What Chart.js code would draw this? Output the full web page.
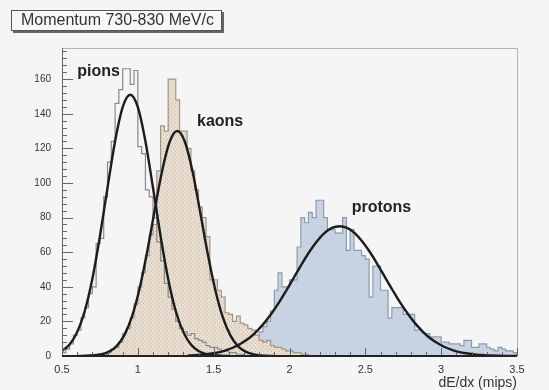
<!DOCTYPE html>
<html>
<head>
<meta charset="utf-8">
<script src="https://cdn.jsdelivr.net/npm/chart.js@4.4.1/dist/chart.umd.min.js"></script>
<style>
  html, body { margin: 0; padding: 0; background: #f5f5f5; }
  #wrap { width: 549px; height: 390px; }
</style>
</head>
<body>
<div id="wrap"><canvas id="dedx"></canvas></div>
<script>
// dE/dx spectra, momentum slice 730-830 MeV/c
const binWidth = 0.025;

const pionStart = 0.5;
const pionCounts = [
  2, 4, 7, 12, 15, 22, 28, 36, 40, 65, 68, 92, 112, 124, 146, 154,
  166, 166, 157, 165, 121, 117, 96, 92, 80, 66, 55, 42, 34, 27, 20, 16,
  14, 12, 13, 10, 9, 8, 6, 5, 5, 4, 3, 3, 2, 2, 1, 1
];

const kaonStart = 0.75;
const kaonCounts = [
  1, 1, 2, 4, 5, 8, 13, 16, 22, 30, 40, 48, 58, 70, 76, 107,
  133, 130, 160, 160, 148, 130, 130, 120, 107, 96, 86, 80, 69, 44, 44, 38,
  34, 25, 24, 20, 23, 19, 18, 16, 15, 12, 9, 8, 9, 6, 5, 5,
  4, 3, 3, 2, 2, 1, 1
];

const protonStart = 1.5;
const protonCounts = [
  1, 1, 2, 2, 3, 4, 5, 6, 8, 9, 11, 12, 14, 17, 20, 26,
  38, 48, 40, 40, 44, 44, 63, 80, 77, 83, 80, 90, 90, 80, 73, 73,
  71, 71, 80, 61, 73, 61, 61, 58, 56, 34, 52, 52, 38, 38, 22, 28,
  28, 28, 24, 24, 24, 15, 15, 13, 13, 11, 11, 11, 8, 8, 7, 7,
  7, 6, 9, 9, 5, 5, 7, 7, 5, 4, 3, 5, 4, 3, 3, 2
];

// gaussian fit curves, sampled
const pionFitX = [0.5, 0.55, 0.6, 0.65, 0.7, 0.75, 0.8, 0.85, 0.9, 0.95, 1.0, 1.05,
  1.1, 1.15, 1.2, 1.25, 1.3, 1.35, 1.4, 1.45, 1.5, 1.6];
const pionFitY = [2.9, 6.6, 13.8, 26.0, 44.5, 69.2, 97.2, 124.1, 143.8, 151, 143.8, 124.1,
  97.2, 69.2, 44.5, 26.0, 13.8, 6.6, 2.9, 1.1, 0.4, 0];

const kaonFitX = [0.6, 0.76, 0.81, 0.86, 0.91, 0.96, 1.01, 1.06, 1.11, 1.16, 1.21, 1.26,
  1.31, 1.36, 1.41, 1.46, 1.51, 1.56, 1.61, 1.66, 1.71, 1.76, 1.81, 1.9];
const kaonFitY = [0, 1.0, 2.5, 5.7, 11.9, 22.4, 38.4, 59.5, 83.7, 106.9, 123.8, 130,
  123.8, 106.9, 83.7, 59.5, 38.4, 22.4, 11.9, 5.7, 2.5, 1.0, 0.3, 0];

const protonFitX = [1.33, 1.38, 1.43, 1.48, 1.53, 1.58, 1.63, 1.68, 1.73, 1.78, 1.83, 1.88,
  1.93, 1.98, 2.03, 2.08, 2.13, 2.18, 2.23, 2.28, 2.33, 2.38, 2.43, 2.48, 2.53, 2.58,
  2.63, 2.68, 2.73, 2.78, 2.83, 2.88, 2.93, 2.98, 3.03, 3.08, 3.13, 3.18, 3.23, 3.28,
  3.33, 3.5];
const protonFitY = [0.3, 0.5, 0.8, 1.4, 2.1, 3.3, 4.9, 7.2, 10.1, 14.0, 18.7, 24.4,
  30.8, 38.0, 45.5, 53.0, 60.1, 66.2, 71.0, 74.0, 75, 74.0, 71.0, 66.2, 60.1, 53.0,
  45.5, 38.0, 30.8, 24.4, 18.7, 14.0, 10.1, 7.2, 4.9, 3.3, 2.1, 1.4, 0.8, 0.5,
  0.3, 0];

const xTicks = [0.5, 1, 1.5, 2, 2.5, 3, 3.5];
const yTicks = [0, 20, 40, 60, 80, 100, 120, 140, 160];

const peakLabels = [
  { text: "pions", x: 0.6, y: 162 },
  { text: "kaons", x: 1.39, y: 133 },
  { text: "protons", x: 2.41, y: 83 }
];

const FONT = "'Liberation Sans', Arial, sans-serif";

function histPoints(start, counts) {
  const pts = [{ x: start, y: 0 }];
  counts.forEach((c, i) => pts.push({ x: start + i * binWidth, y: c }));
  pts.push({ x: start + counts.length * binWidth, y: 0 });
  return pts;
}

function zip(xs, ys) {
  return xs.map((x, i) => ({ x: x, y: ys[i] }));
}

// dotted beige fill for the kaon histogram
function dotPattern(ctx) {
  const c = document.createElement("canvas");
  c.width = 4;
  c.height = 4;
  const p = c.getContext("2d");
  p.fillStyle = "#e8ddcf";
  p.fillRect(0, 0, 4, 4);
  p.fillStyle = "#c9bba7";
  p.fillRect(1, 1, 1, 1);
  p.fillRect(3, 3, 1, 1);
  return ctx.createPattern(c, "repeat");
}

const frame = {
  id: "frame",
  beforeDraw(chart) {
    const ctx = chart.ctx;
    ctx.save();
    ctx.fillStyle = "#f5f5f5";
    ctx.fillRect(0, 0, chart.width, chart.height);
    ctx.restore();
  },
  afterDraw(chart) {
    const ctx = chart.ctx;
    const a = chart.chartArea;
    const xs = chart.scales.x;
    const ys = chart.scales.y;
    ctx.save();

    // top and right frame
    ctx.strokeStyle = "#b4b4b4";
    ctx.lineWidth = 1;
    ctx.beginPath();
    ctx.moveTo(a.left, a.top + 0.5);
    ctx.lineTo(a.right + 0.5, a.top + 0.5);
    ctx.lineTo(a.right + 0.5, a.bottom);
    ctx.stroke();

    // y axis with inner ticks
    ctx.strokeStyle = "#666";
    ctx.beginPath();
    ctx.moveTo(a.left + 0.5, a.top);
    ctx.lineTo(a.left + 0.5, a.bottom);
    for (let v = 0; v <= ys.max; v += 4) {
      const py = Math.round(ys.getPixelForValue(v)) + 0.5;
      const len = v % 20 === 0 ? 11 : 5;
      ctx.moveTo(a.left, py);
      ctx.lineTo(a.left + len, py);
    }
    ctx.stroke();

    // x axis ticks
    ctx.beginPath();
    for (let k = 0; k <= 30; k++) {
      const px = Math.round(xs.getPixelForValue(0.5 + k * 0.1)) + 0.5;
      const len = k % 5 === 0 ? 8 : 4;
      ctx.moveTo(px, a.bottom);
      ctx.lineTo(px, a.bottom - len);
    }
    ctx.stroke();

    ctx.strokeStyle = "#222";
    ctx.lineWidth = 2;
    ctx.beginPath();
    ctx.moveTo(a.left, a.bottom);
    ctx.lineTo(a.right, a.bottom);
    ctx.stroke();

    // peak labels
    ctx.fillStyle = "#222";
    ctx.font = "bold 16px " + FONT;
    ctx.textBaseline = "alphabetic";
    ctx.textAlign = "left";
    peakLabels.forEach((l) => {
      ctx.fillText(l.text, xs.getPixelForValue(l.x), ys.getPixelForValue(l.y));
    });

    // axis title
    ctx.fillStyle = "#333";
    ctx.font = "14px " + FONT;
    ctx.textAlign = "right";
    ctx.fillText("dE/dx (mips)", a.right, 387);

    // title box with shadow
    ctx.fillStyle = "#666";
    ctx.fillRect(13, 31, 211, 2);
    ctx.fillRect(222, 12, 2, 21);
    ctx.fillStyle = "#f7f7f7";
    ctx.fillRect(11, 10, 211, 21);
    ctx.strokeStyle = "#555";
    ctx.lineWidth = 1;
    ctx.strokeRect(11.5, 10.5, 210, 20);
    ctx.fillStyle = "#333";
    ctx.font = "16px " + FONT;
    ctx.textAlign = "left";
    ctx.textBaseline = "middle";
    ctx.fillText("Momentum 730-830 MeV/c", 21, 21);

    ctx.restore();
  }
};

const canvas = document.getElementById("dedx");
const ctx = canvas.getContext("2d");

const fitStyle = {
  borderColor: "#1c1c1c",
  borderWidth: 2.4,
  pointRadius: 0,
  fill: false,
  cubicInterpolationMode: "monotone"
};

new Chart(ctx, {
  type: "line",
  data: {
    datasets: [
      { label: "pion fit", data: zip(pionFitX, pionFitY), ...fitStyle },
      { label: "kaon fit", data: zip(kaonFitX, kaonFitY), ...fitStyle },
      { label: "proton fit", data: zip(protonFitX, protonFitY), ...fitStyle },
      {
        label: "pions",
        data: histPoints(pionStart, pionCounts),
        stepped: true,
        borderColor: "#8a8a8a",
        borderWidth: 1.2,
        pointRadius: 0,
        fill: false
      },
      {
        label: "kaons",
        data: histPoints(kaonStart, kaonCounts),
        stepped: true,
        borderColor: "#a09684",
        borderWidth: 1.2,
        pointRadius: 0,
        backgroundColor: dotPattern(ctx),
        fill: "origin"
      },
      {
        label: "protons",
        data: histPoints(protonStart, protonCounts),
        stepped: true,
        borderColor: "#8e9aaa",
        borderWidth: 1.2,
        pointRadius: 0,
        backgroundColor: "#c7d3e2",
        fill: "origin"
      }
    ]
  },
  options: {
    responsive: true,
    maintainAspectRatio: false,
    animation: false,
    devicePixelRatio: 1,
    layout: { padding: { top: 48, right: 32, left: 0, bottom: 0 } },
    plugins: {
      legend: { display: false },
      tooltip: { enabled: false }
    },
    scales: {
      x: {
        type: "linear",
        min: 0.5,
        max: 3.5,
        afterBuildTicks: (s) => { s.ticks = xTicks.map((v) => ({ value: v })); },
        afterFit: (s) => { s.height = 34; },
        grid: { display: false, drawTicks: false },
        border: { display: false },
        ticks: {
          padding: 7,
          color: "#333",
          maxRotation: 0,
          autoSkip: false,
          font: { size: 11, family: FONT },
          callback: (v) => String(v)
        }
      },
      y: {
        min: 0,
        max: 178,
        afterBuildTicks: (s) => { s.ticks = yTicks.map((v) => ({ value: v })); },
        afterFit: (s) => { s.width = 62; },
        grid: { display: false, drawTicks: false },
        border: { display: false },
        ticks: {
          padding: 11,
          color: "#333",
          font: { size: 10, family: FONT }
        }
      }
    }
  },
  plugins: [frame]
});
</script>
</body>
</html>
